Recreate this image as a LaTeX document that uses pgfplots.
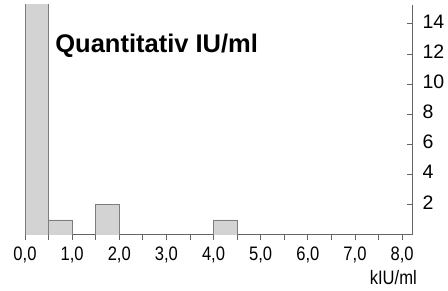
\documentclass[border=0pt]{standalone}
\usepackage{fontspec}
\setmainfont{Liberation Sans}
\newfontfamily\narrowfont[FakeStretch=0.85]{Liberation Sans}
\usepackage{pgfplots}
\pgfplotsset{compat=1.18}
\definecolor{barfill}{RGB}{211,211,211}
\definecolor{baredge}{RGB}{125,125,125}
\definecolor{axgray}{RGB}{100,100,100}
\begin{document}
\begin{tikzpicture}
\useasboundingbox (-25pt,-56pt) rectangle (423pt,235pt);
\begin{axis}[
  at={(0pt,0pt)}, anchor=south west,
  scale only axis, width=387pt, height=230pt,
  xmin=0, xmax=8.21, ymin=0, ymax=15.25,
  axis x line*=bottom, axis y line*=right,
  axis line style={axgray, line width=1pt},
  xtick={0,1,...,8}, minor xtick={0.5,1.5,...,7.5},
  ytick={2,4,...,14},
  tick style={axgray, line width=0.8pt},
  major tick length=5pt, minor tick length=5pt,
  xtick align=outside, ytick align=inside,
  /pgf/number format/assume math mode=true,
  xticklabel style={font=\narrowfont\fontsize{19.5}{19.5}\selectfont, yshift=-3pt,
    /pgf/number format/.cd, fixed, fixed zerofill, precision=1, use comma},
  yticklabel style={font=\fontsize{19.5}{19.5}\selectfont, anchor=west, xshift=7pt, yshift=2.5pt},
  clip=true,
]
\addplot[ybar, bar width=0.5, bar shift=0pt, fill=barfill, draw=baredge, line width=0.8pt]
  coordinates {(0.25,20) (0.75,1) (1.75,2) (4.25,1)};
\node[anchor=base west, font=\bfseries\fontsize{25.5}{25.5}\selectfont, inner sep=0pt] at (axis cs:0.64,12.13) {Quantitativ IU/ml};
\end{axis}
\node[anchor=base east, font=\narrowfont\fontsize{19.5}{19.5}\selectfont, inner sep=0pt] at (392pt,-50pt) {kIU/ml};
\end{tikzpicture}
\end{document}
